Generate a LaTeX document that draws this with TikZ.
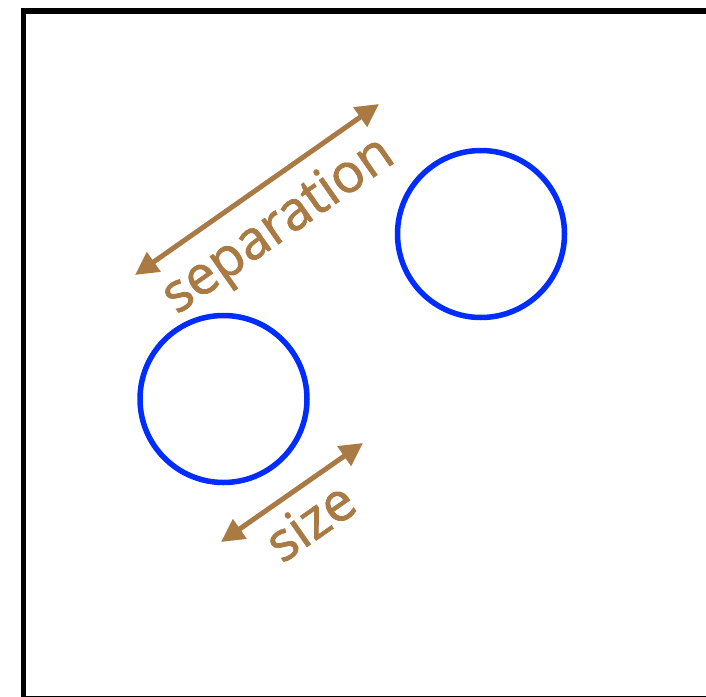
\documentclass[tikz,border=0pt]{standalone}
\usepackage{fontspec}
\setmainfont{Open Sans}[FakeBold=1.5]
\usetikzlibrary{arrows.meta}
\definecolor{brownarrow}{RGB}{169,122,67}
\definecolor{ringblue}{RGB}{0,45,255}
\begin{document}
\begin{tikzpicture}[x=1pt,y=-1pt,
  ring/.style={circle,draw=ringblue,line width=5.5pt,minimum size=167pt,inner sep=0pt},
  measure/.style={draw=brownarrow,line width=5pt,{Triangle[length=23pt,width=23pt]}-{Triangle[length=23pt,width=23pt]}},
  measurelabel/.style={text=brownarrow,font=\fontsize{54}{54}\selectfont,anchor=base,rotate=35,inner sep=0pt}]
\useasboundingbox (0,0) rectangle (706,696);
\clip (0,0) rectangle (706,696);
\draw[line width=5.5pt] (23.5,11) rectangle (760,698.5);
\node[ring] (left) at (223.5,399) {};
\node[ring] (right) at (481,234) {};
\coordinate (sepA) at (135,275);
\coordinate (sepB) at (379,104);
\coordinate (sizeA) at (221,542);
\coordinate (sizeB) at (363,443);
\draw[measure] (sepA) -- (sepB);
\draw[measure] (sizeA) -- (sizeB);
\node[measurelabel] (seplabel) at (287,238) {separation};
\node[measurelabel] (sizelabel) at (321,537) {size};
\end{tikzpicture}
\end{document}
